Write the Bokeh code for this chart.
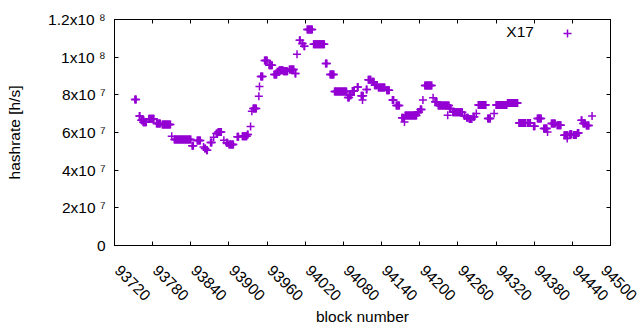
import math
from bokeh.plotting import figure
from bokeh.models import (Range1d, LinearAxis, FixedTicker, Label, Legend,
                          LegendItem, ColumnDataSource)
from bokeh.core.properties import value
from bokeh.embed import file_html
from bokeh.resources import INLINE

# ---------------- data ----------------
series_name = "X17"
# runs of consecutive blocks sharing one hashrate estimate (Mh/s)
run_first = [93752, 93759, 93762, 93765, 93774, 93786, 93795, 93810, 93814, 93842,
             93850, 93860, 93862, 93865, 93871, 93876, 93880, 93883, 93892, 93896,
             93900, 93913, 93921, 93929, 93934, 93936, 93938, 93947, 93948, 93950,
             93956, 93963, 93971, 93976, 93979, 93986, 93995, 94004, 94007, 94011,
             94015, 94018, 94023, 94033, 94052, 94059, 94066, 94087, 94090, 94094,
             94102, 94108, 94110, 94116, 94119, 94125, 94129, 94135, 94148, 94157,
             94163, 94172, 94176, 94177, 94197, 94201, 94205, 94208, 94221, 94224,
             94229, 94244, 94247, 94252, 94270, 94274, 94278, 94284, 94289, 94292,
             94307, 94317, 94320, 94338, 94356, 94369, 94379, 94385, 94395, 94401,
             94407, 94416, 94427, 94432, 94436, 94442, 94448, 94454, 94457, 94462,
             94471]
run_last = [93754, 93760, 93766, 93770, 93782, 93792, 93808, 93810, 93840, 93844,
            93855, 93860, 93863, 93866, 93873, 93876, 93882, 93888, 93892, 93898,
            93907, 93915, 93928, 93930, 93934, 93936, 93943, 93947, 93948, 93953,
            93960, 93968, 93975, 93979, 93985, 93992, 94002, 94005, 94007, 94012,
            94016, 94019, 94031, 94050, 94054, 94065, 94085, 94089, 94092, 94097,
            94103, 94111, 94110, 94117, 94123, 94128, 94133, 94145, 94152, 94159,
            94168, 94174, 94176, 94195, 94199, 94203, 94205, 94219, 94221, 94227,
            94246, 94244, 94249, 94267, 94271, 94276, 94282, 94286, 94289, 94304,
            94311, 94317, 94337, 94354, 94366, 94374, 94381, 94391, 94400, 94401,
            94413, 94422, 94433, 94432, 94439, 94446, 94450, 94455, 94460, 94466,
            94471]
run_hashrate_mhs = [77.5, 68.7, 66.5, 65.5, 67.3, 64.8, 64.3, 58.0, 56.3, 53.0,
                    55.8, 52.3, 51.5, 50.6, 54.7, 57.5, 59.5, 60.2, 55.9, 54.5,
                    53.6, 57.7, 58.0, 59.0, 63.2, 71.3, 72.7, 79.2, 84.4, 89.8,
                    98.2, 95.7, 90.8, 92.2, 93.0, 92.5, 93.5, 91.3, 101.5, 109.0,
                    107.3, 105.8, 114.7, 106.8, 96.6, 90.8, 81.8, 78.6, 79.8, 82.1,
                    84.2, 79.5, 77.2, 82.8, 88.0, 86.9, 85.1, 83.9, 82.5, 77.2,
                    74.3, 67.8, 65.6, 69.0, 70.9, 72.2, 77.2, 85.0, 78.4, 76.3,
                    74.4, 69.2, 72.7, 70.8, 68.7, 67.8, 67.2, 68.3, 70.1, 74.6,
                    67.4, 70.1, 74.6, 75.7, 65.1, 65.1, 63.3, 67.4, 62.1, 60.3,
                    64.8, 63.9, 58.6, 56.8, 59.1, 58.7, 59.8, 66.5, 64.8, 63.7,
                    68.7]

x_tick_values = [93720, 93780, 93840, 93900, 93960, 94020, 94080, 94140,
                 94200, 94260, 94320, 94380, 94440, 94500]
y_tick_values = [0, 20000000, 40000000, 60000000, 80000000, 100000000, 120000000]
y_tick_labels = ["0", "2x10 \u2077", "4x10 \u2077", "6x10 \u2077", "8x10 \u2077",
                 "1x10 \u2078", "1.2x10 \u2078"]

# ---------------- styling ----------------
FONT = "Liberation Sans"
FS = "15.5px"
PURPLE = "#9400d3"
NBSP = "\u00a0"

blocks, rates = [], []
for first, last, mhs in zip(run_first, run_last, run_hashrate_mhs):
    for b in range(first, last + 1):
        blocks.append(b)
        rates.append(mhs * 1e6)
src = ColumnDataSource(dict(block=blocks, hashrate=rates))

p = figure(width=640, height=330, output_backend="svg", toolbar_location=None,
           x_range=Range1d(93720, 94500), y_range=Range1d(0, 1.2e8),
           x_axis_location=None, y_axis_location=None,
           min_border_left=114, min_border_right=30, min_border_top=19,
           min_border_bottom=85)
p.grid.visible = False
p.outline_line_color = "black"
p.outline_line_width = 1
p.outline_line_alpha = 1
p.background_fill_color = "white"
p.border_fill_color = "white"


def base_axis(ticks, **kw):
    opts = dict(major_tick_in=4, major_tick_out=0,
                minor_tick_in=0, minor_tick_out=0, axis_line_color="black",
                major_tick_line_color="black", major_label_text_font=FONT,
                major_label_text_font_size=FS, major_label_text_color="black",
                axis_label_text_font=FONT, axis_label_text_font_size=FS,
                axis_label_text_font_style="normal", axis_label_text_color="black")
    opts.update(kw)
    return LinearAxis(ticker=FixedTicker(ticks=ticks), **opts)


bottom = base_axis(x_tick_values, axis_label="block number",
                   major_label_orientation=-math.pi / 4,
                   major_label_overrides={v: NBSP + str(v) for v in x_tick_values},
                   major_label_standoff=19, axis_label_standoff=-5)
p.add_layout(bottom, "below")

left = base_axis(y_tick_values, axis_label="hashrate [h/s]",
                 major_label_overrides={v: t for v, t in zip(y_tick_values, y_tick_labels)},
                 major_label_standoff=9, axis_label_standoff=22)
p.add_layout(left, "left")

top = base_axis(x_tick_values, major_label_text_color=None,
                major_label_text_font_size="0px", major_label_standoff=0)
p.add_layout(top, "above")

right = base_axis(y_tick_values, major_label_text_color=None,
                  major_label_text_font_size="0px", major_label_standoff=0)
p.add_layout(right, "right")

r = p.scatter("block", "hashrate", source=src, marker="cross", size=8,
              line_color=PURPLE, line_width=1.5)

legend = Legend(items=[LegendItem(label=value(""), renderers=[r])], location=(443, 202),
                padding=0, margin=0, spacing=0, label_width=0, label_height=0,
                label_standoff=0, glyph_width=20, glyph_height=20,
                border_line_color=None, background_fill_alpha=0,
                label_text_font_size="1px")
p.add_layout(legend, "center")

p.add_layout(Label(x=x_tick_values[-1], y=y_tick_values[-1], x_offset=-76.6, y_offset=-12,
                   text=series_name, text_font=FONT, text_font_size=FS,
                   text_align="right", text_baseline="middle", text_color="black"))

open("out.html", "w").write(file_html(p, INLINE))
